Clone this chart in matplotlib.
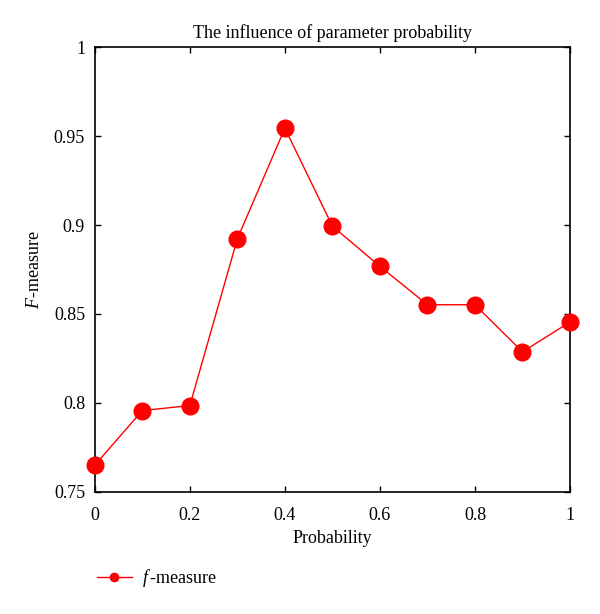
"""F-measure versus the probability parameter."""

import matplotlib
matplotlib.use('Agg')
import matplotlib.pyplot as plt

# Data
probability = [0.0, 0.1, 0.2, 0.3, 0.4, 0.5, 0.6, 0.7, 0.8, 0.9, 1.0]
f_measure = [0.765, 0.7957, 0.7985, 0.8923, 0.9545, 0.8994, 0.8768, 0.8552, 0.8552, 0.8287, 0.8455]
x_ticks = [0, 0.2, 0.4, 0.6, 0.8, 1]
x_tick_labels = ["0", "0.2", "0.4", "0.6", "0.8", "1"]
y_ticks = [0.75, 0.8, 0.85, 0.9, 0.95, 1]
y_tick_labels = ["0.75", "0.8", "0.85", "0.9", "0.95", "1"]

plt.rcParams['font.family'] = ['Liberation Serif', 'DejaVu Serif']
plt.rcParams['mathtext.fontset'] = 'custom'
plt.rcParams['mathtext.it'] = 'Liberation Serif:italic'
plt.rcParams['mathtext.rm'] = 'Liberation Serif'

fig = plt.figure(figsize=(6.0, 6.14), dpi=100)
ax = fig.add_axes([0.158, 0.199, 0.792, 0.724])

ax.plot(probability, f_measure, color='#ff0000', linewidth=1.0,
        marker='o', markersize=12, clip_on=False, zorder=3)

ax.set_xlim(0, 1)
ax.set_ylim(0.75, 1)
ax.set_xticks(x_ticks)
ax.set_xticklabels(x_tick_labels)
ax.set_yticks(y_ticks)
ax.set_yticklabels(y_tick_labels)
ax.tick_params(direction='in', top=True, right=True, length=4, width=1,
               labelsize=13, pad=7)
ax.tick_params(axis='x', pad=11)
for spine in ax.spines.values():
    spine.set_linewidth(1.2)

ax.set_title("The influence of parameter probability", fontsize=13, pad=7)
ax.set_xlabel("Probability", fontsize=13, labelpad=4)
ax.set_ylabel(r"$F$-measure", fontsize=13, labelpad=8)

# Legend sits below the axes, with a small marker
handle = plt.Line2D([], [], color='#ff0000', linewidth=1.0, marker='o', markersize=6)
fig.legend([handle], [r"$f\,$-measure"], loc='center left',
           bbox_to_anchor=(0.135, 0.058), frameon=False, fontsize=13,
           handlelength=1.9, handletextpad=0.6)

fig.savefig("out.png", dpi=100)
plt.close(fig)
